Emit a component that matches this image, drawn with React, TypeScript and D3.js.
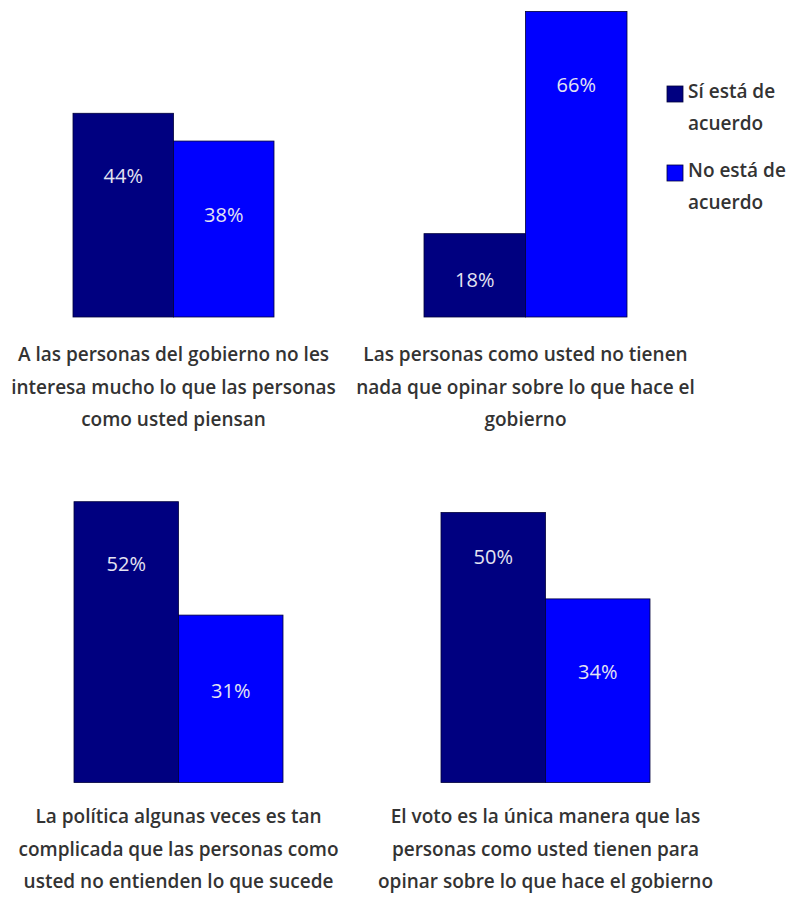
import React from "react";
import * as d3 from "d3";

const seriesNames = ["Sí está de acuerdo", "No está de acuerdo"];
const seriesColors = ["#000080", "#0000FF"];
const siValues = [44, 18, 52, 50];
const noValues = [38, 66, 31, 34];
const questionLines = [
  ["A las personas del gobierno no les", "interesa mucho lo que las personas", "como usted piensan"],
  ["Las personas como usted no tienen", "nada que opinar sobre lo que hace el", "gobierno"],
  ["La política algunas veces es tan", "complicada que las personas como", "usted no entienden lo que sucede"],
  ["El voto es la única manera que las", "personas como usted tienen para", "opinar sobre lo que hace el gobierno"],
];

// layout (not data)
const panelLeft = [73, 424, 74, 441];
const panelRight = [274, 627, 283, 650];
const rowOf = [0, 0, 1, 1];
const rowBaseline = [317, 782.5];
const rowPxPer100 = [463, 540];
const labelDy = [[63, 74], [46, 74], [62, 76], [44, 73]];
const textBaseline = [361, 823];
const lineGap = 32.5;

const FONT = "'Open Sans', 'DejaVu Sans', sans-serif";

export default function App() {
  return (
    <svg width={794} height={904} style={{ position: "absolute", left: 0, top: 0, background: "#fff" }}>
      {questionLines.map((lines, i) => {
        const row = rowOf[i];
        const x = d3.scaleBand<number>().domain([0, 1]).range([panelLeft[i], panelRight[i]]).padding(0);
        const y = d3.scaleLinear().domain([0, 100]).range([rowBaseline[row], rowBaseline[row] - rowPxPer100[row]]);
        const vals = [siValues[i], noValues[i]];
        const cx = (panelLeft[i] + panelRight[i]) / 2;
        return (
          <g key={i}>
            {vals.map((v, s) => (
              <rect key={s} x={x(s)} y={y(v)} width={x.bandwidth()} height={y(0) - y(v)}
                fill={seriesColors[s]} stroke="#00003a" strokeWidth={0.8} />
            ))}
            {vals.map((v, s) => (
              <text key={"l" + s} x={(x(s) as number) + x.bandwidth() / 2} y={y(v) + labelDy[i][s] + 7}
                textAnchor="middle" fill="#e4e4f2" fontFamily={FONT} fontSize={20} fontWeight={500}>
                {d3.format(".0f")(v)}%
              </text>
            ))}
            {lines.map((ln, k) => (
              <text key={"q" + k} x={cx} y={textBaseline[row] + k * lineGap} textAnchor="middle"
                fill="#333" fontFamily={FONT} fontSize={19} fontWeight={600}>
                {ln}
              </text>
            ))}
          </g>
        );
      })}
      {seriesNames.map((name, s) => {
        const words = name.split(" ");
        const first = words.slice(0, 3).join(" ");
        const second = words.slice(3).join(" ");
        const top = 86 + s * 79;
        return (
          <g key={"leg" + s}>
            <rect x={667} y={top} width={16} height={16} fill={seriesColors[s]} stroke="#00003a" strokeWidth={0.8} />
            <text x={688} y={top + 12} fill="#333" fontFamily={FONT} fontSize={19} fontWeight={600}>{first}</text>
            <text x={688} y={top + 44} fill="#333" fontFamily={FONT} fontSize={19} fontWeight={600}>{second}</text>
          </g>
        );
      })}
    </svg>
  );
}
